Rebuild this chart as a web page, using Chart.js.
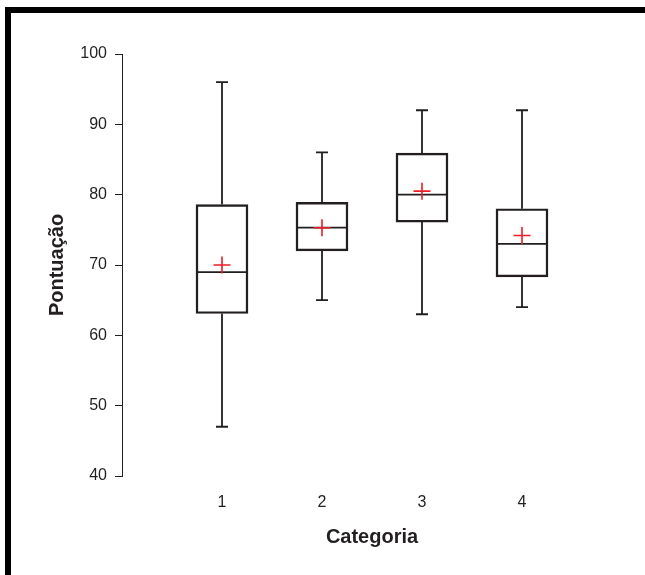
<!DOCTYPE html>
<html>
<head>
<meta charset="utf-8">
<script src="https://cdn.jsdelivr.net/npm/chart.js@4"></script>
<style>
  body { margin: 0; background: #fff; }
  #wrap { position: relative; width: 645px; height: 575px; overflow: hidden; background: #fff; }
  #chart { position: absolute; left: 0; top: 0; }
  #frame {
    position: absolute; left: 5px; top: 7px; width: 650px; height: 580px;
    border-top: 6px solid #000; border-left: 6px solid #000; pointer-events: none;
  }
</style>
</head>
<body>
<div id="wrap">
  <canvas id="chart" width="645" height="575"></canvas>
  <div id="frame"></div>
</div>
<script>
// box plot data, one entry per category
const categories = [1, 2, 3, 4];
const minValues = [47, 65, 63, 64];
const q1Values = [63.1, 72.0, 76.1, 68.3];
const medianValues = [69.0, 75.3, 80.0, 73.0];
const q3Values = [78.6, 78.9, 85.9, 78.0];
const maxValues = [96, 86, 92, 92];
const meanValues = [70.0, 75.3, 80.5, 74.2];
const yTicks = [40, 50, 60, 70, 80, 90, 100];

const ink = '#231f20';
const font = 'Liberation Sans, Arial, sans-serif';

// whiskers, caps and median lines, drawn from the scales
const whiskerPlugin = {
  id: 'whiskers',
  beforeDatasetsDraw(chart) {
    const ctx = chart.ctx;
    const x = chart.scales.x, y = chart.scales.y;
    const half = 26, cap = 6;
    ctx.save();
    ctx.strokeStyle = ink;
    ctx.lineWidth = 1.8;
    categories.forEach((c, i) => {
      const px = x.getPixelForValue(c);
      const yMin = y.getPixelForValue(minValues[i]);
      const yMax = y.getPixelForValue(maxValues[i]);
      const yQ1 = y.getPixelForValue(q1Values[i]);
      const yQ3 = y.getPixelForValue(q3Values[i]);
      const yMed = y.getPixelForValue(medianValues[i]);
      ctx.beginPath();
      ctx.moveTo(px, yQ3); ctx.lineTo(px, yMax);
      ctx.moveTo(px - cap, yMax); ctx.lineTo(px + cap, yMax);
      ctx.moveTo(px, yQ1); ctx.lineTo(px, yMin);
      ctx.moveTo(px - cap, yMin); ctx.lineTo(px + cap, yMin);
      ctx.moveTo(px - half, yMed); ctx.lineTo(px + half, yMed);
      ctx.stroke();
    });
    ctx.restore();
  }
};

new Chart(document.getElementById('chart'), {
  data: {
    datasets: [{
      type: 'scatter',
      order: 0,
      data: categories.map((c, i) => ({ x: c, y: meanValues[i] })),
      pointStyle: 'cross',
      radius: 8.5,
      borderColor: '#ee1c25',
      borderWidth: 1.6
    }, {
      type: 'bar',
      order: 1,
      data: categories.map((c, i) => ({ x: c, y: [q1Values[i], q3Values[i]] })),
      backgroundColor: 'rgba(0,0,0,0)',
      borderColor: ink,
      borderWidth: 1.8,
      borderSkipped: false,
      barThickness: 52
    }]
  },
  options: {
    responsive: false,
    animation: false,
    events: [],
    layout: { padding: { left: 45, top: 54, right: 23, bottom: 26 } },
    plugins: { legend: { display: false }, tooltip: { enabled: false } },
    scales: {
      x: {
        type: 'linear',
        offset: false,
        min: 0,
        max: 5,
        afterBuildTicks: s => { s.ticks = categories.map(v => ({ value: v })); },
        afterFit: s => { s.height = 73; },
        grid: { display: false, drawTicks: false, offset: false },
        border: { display: false },
        ticks: { color: ink, font: { family: font, size: 16 }, padding: 17 },
        title: {
          display: true, text: 'Categoria', color: ink,
          font: { family: font, size: 20, weight: 'bold' }, padding: 0
        }
      },
      y: {
        min: 40,
        max: 100,
        afterBuildTicks: s => { s.ticks = yTicks.map(v => ({ value: v })); },
        afterFit: s => { s.width = 77; },
        grid: { drawOnChartArea: false, tickLength: 7, color: ink },
        border: { display: true, color: ink, width: 1 },
        ticks: { color: ink, font: { family: font, size: 16 }, padding: 8 },
        title: {
          display: true, text: 'Pontuação', color: ink,
          font: { family: font, size: 20, weight: 'bold' }, padding: 0
        }
      }
    }
  },
  plugins: [whiskerPlugin]
});
</script>
</body>
</html>
